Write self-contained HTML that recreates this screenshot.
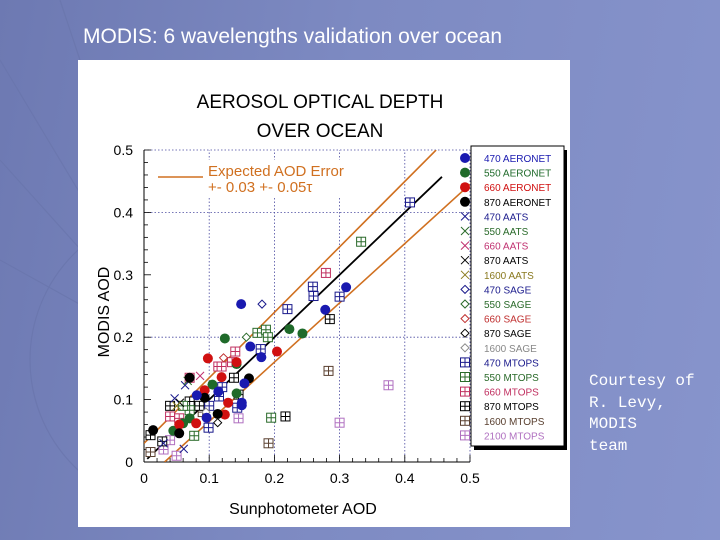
<!DOCTYPE html>
<html style="overflow:hidden;width:720px;height:540px"><head><meta charset="utf-8"><style>
html,body{margin:0;padding:0}
body{width:720px;height:540px;overflow:hidden;background:linear-gradient(100deg,#6d79b2 0%,#7d8ac2 45%,#8794cc 100%);font-family:"Liberation Sans",sans-serif;position:relative}
#title{position:absolute;left:83px;top:25px;font-size:21px;color:#fff}
#panel{position:absolute;left:78px;top:60px;width:492px;height:467px;background:#fff}
#credit{position:absolute;left:589px;top:371px;font-family:"Liberation Mono",monospace;font-size:16px;color:#fff;line-height:21.5px}
svg{display:block}
</style></head><body>
<svg width="720" height="540" style="position:absolute;left:0;top:0">
<g fill="none" stroke="#6a76ad" stroke-width="1.2" opacity="0.8">
<circle cx="180" cy="360" r="150"/>
<line x1="180" y1="360" x2="0" y2="60"/><line x1="180" y1="360" x2="0" y2="160"/><line x1="180" y1="360" x2="0" y2="260"/><line x1="180" y1="360" x2="60" y2="0"/>
</g></svg>
<div id="title">MODIS: 6 wavelengths validation over ocean</div>
<div id="panel"></div>
<div id="credit">Courtesy of<br>R. Levy,<br>MODIS<br>team</div>
<svg id="chart" width="720" height="540" style="position:absolute;left:0;top:0"></svg>
<script>
const xTicks=[0,0.1,0.2,0.3,0.4,0.5];
const yTicks=[0,0.1,0.2,0.3,0.4,0.5];
const aeronet470=[[.149,.253],[.163,.185],[.18,.168],[.278,.244],[.31,.28],[.154,.126],[.15,.091],[.081,.107],[.114,.113],[.096,.071],[.15,.095]];
const aeronet550=[[.124,.198],[.223,.213],[.243,.206],[.105,.124],[.142,.157],[.142,.11],[.06,.062],[.07,.07],[.045,.05]];
const aeronet660=[[.098,.166],[.204,.177],[.142,.16],[.119,.136],[.093,.115],[.129,.095],[.124,.076],[.054,.06],[.08,.062]];
const aeronet870=[[.07,.135],[.161,.134],[.093,.103],[.014,.051],[.054,.046],[.113,.077]];
const aats=[["#1a1a8c",.047,.102],["#1a1a8c",.063,.123],["#1a1a8c",.061,.021],["#2a6a2a",.067,.13],["#c03070",.086,.138],["#000",.055,.095],["#8a7a20",.05,.09],["#1a1a8c",.03,.03]];
const sage=[["#1a1a8c",.181,.253],["#2a6a2a",.157,.2],["#c03030",.122,.167],["#000",.113,.063],["#888",.095,.08]];
const mtops470=[[.22,.245],[.259,.281],[.26,.266],[.30,.265],[.408,.416],[.179,.181],[.115,.105],[.099,.055],[.143,.087],[.12,.12],[.1,.09]];
const mtops550=[[.333,.353],[.174,.207],[.187,.212],[.19,.2],[.195,.071],[.077,.042],[.07,.083],[.06,.09]];
const mtops660=[[.279,.303],[.14,.177],[.114,.153],[.119,.153],[.07,.135],[.04,.073],[.054,.07],[.135,.16]];
const mtops870=[[.285,.229],[.217,.073],[.138,.135],[.145,.108],[.04,.09],[.01,.043],[.028,.033],[.07,.097],[.085,.09]];
const mtops1600=[[.283,.146],[.191,.03],[.01,.016],[.09,.08]];
const mtops2100=[[.375,.123],[.30,.063],[.145,.07],[.03,.02],[.05,.01],[.04,.035]];
const legendLabels=["470 AERONET","550 AERONET","660 AERONET","870 AERONET","470 AATS","550 AATS","660 AATS","870 AATS","1600 AATS","470 SAGE","550 SAGE","660 SAGE","870 SAGE","1600 SAGE","470 MTOPS","550 MTOPS","660 MTOPS","870 MTOPS","1600 MTOPS","2100 MTOPS"];
const legendColors=["#1a1ab0","#1f6a2a","#d01010","#000","#1a1a8c","#2a6a2a","#c03070","#000","#8a7a20","#1a1a8c","#2a6a2a","#c03030","#000","#888","#1a1a8c","#2a6a2a","#c03060","#000","#5a4030","#b070c0"];
const legendKinds=["c","c","c","c","x","x","x","x","x","d","d","d","d","d","m","m","m","m","m","m"];
const NS="http://www.w3.org/2000/svg";
const svg=document.getElementById('chart');
const X0=144,X1=470,Y0=462,Y1=150;
const sx=v=>X0+(X1-X0)*v/0.5, sy=v=>Y0-(Y0-Y1)*v/0.5;
function mk(t,a,p){const e=document.createElementNS(NS,t);for(const k in a)e.setAttribute(k,a[k]);(p||svg).appendChild(e);return e;}
function txt(x,y,s,sz,fill,anchor,p){const e=mk('text',{x:x,y:y,'font-size':sz,fill:fill,'text-anchor':anchor||'start','font-family':'Liberation Sans, sans-serif'},p);e.textContent=s;return e;}
let t=txt(320,108,"AEROSOL OPTICAL DEPTH",19,"#000","middle");


t=txt(320,137,"OVER OCEAN",19,"#000","middle");


xTicks.forEach(v=>{if(v>0){const l=mk('line',{x1:sx(v),x2:sx(v),y1:Y0,y2:Y1,stroke:'#4a4aa0','stroke-width':0.8,'stroke-dasharray':'1.5,2'});

}
const tl=txt(sx(v),483,String(v),14,"#000","middle");

});
yTicks.forEach(v=>{if(v>0&&(v==0.5||Math.round(v*10)%2==0)){const l=mk('line',{x1:X0,x2:X1,y1:sy(v),y2:sy(v),stroke:'#4a4aa0','stroke-width':0.8,'stroke-dasharray':'1.5,2'});

}
const tl=txt(133,sy(v)+5,String(v),14,"#000","end");

});
for(let i=0;i<=25;i++){const v=i*0.02;mk('line',{x1:sx(v),x2:sx(v),y1:Y0,y2:Y0-(i%5?4:7),stroke:'#000','stroke-width':0.8});mk('line',{x1:X0,x2:X0+(i%5?4:7),y1:sy(v),y2:sy(v),stroke:'#000','stroke-width':0.8});}
let ax=mk('line',{x1:X0,x2:X0,y1:Y0,y2:Y1,stroke:'#000','stroke-width':1});


ax=mk('line',{x1:X0,x2:X1,y1:Y0,y2:Y0,stroke:'#000','stroke-width':1});


t=txt(303,514,"Sunphotometer AOD",16,"#000","middle");


t=txt(0,0,"MODIS AOD",16,"#000","middle");
t.setAttribute('transform','translate(109,312) rotate(-90)');


const cp=mk('clipPath',{id:'pc'});mk('rect',{x:X0,y:Y1,width:X1-X0,height:Y0-Y1},cp);
const g=mk('g',{'clip-path':'url(#pc)'});
let ln=mk('line',{x1:sx(0.005),y1:sy(0.005),x2:sx(0.457),y2:sy(0.457),stroke:'#000','stroke-width':1.8},g);


ln=mk('line',{x1:sx(0),y1:sy(0.03),x2:sx(0.448),y2:sy(0.5),stroke:'#d07020','stroke-width':1.6},g);


ln=mk('line',{x1:sx(0.0316),y1:sy(0),x2:sx(0.5),y2:sy(0.445),stroke:'#d07020','stroke-width':1.6},g);


mk('rect',{x:150,y:160,width:212,height:38,fill:'#fff'});
mk('line',{x1:158,x2:203,y1:177,y2:177,stroke:'#d07020','stroke-width':1.6});
t=txt(208,176,"Expected AOD Error",15,"#d07020");


t=txt(208,192,"+- 0.03 +- 0.05τ",15,"#d07020");


function marker(kind,c,x,y,p){
 if(kind=='c')return mk('circle',{cx:x,cy:y,r:5,fill:c},p);
 if(kind=='x'){const gg=mk('g',{stroke:c,'stroke-width':1,fill:'none'},p);mk('path',{d:`M${x-4} ${y-4}L${x+4} ${y+4}M${x-4} ${y+4}L${x+4} ${y-4}`},gg);return gg;}
 if(kind=='d')return mk('path',{d:`M${x} ${y-4}L${x+4} ${y}L${x} ${y+4}L${x-4} ${y}Z`,fill:'#fff',stroke:c,'stroke-width':1},p);
 const gg=mk('g',{stroke:c,'stroke-width':1,fill:'#fff'},p);mk('rect',{x:x-4.5,y:y-4.5,width:9,height:9},gg);mk('path',{d:`M${x} ${y-4.5}V${y+4.5}M${x-4.5} ${y}H${x+4.5}`},gg);return gg;
}
function series(arr,kind,c,name){arr.forEach(d=>{const m=marker(kind,c,sx(d[0]),sy(d[1]),g);

});}
series(mtops1600,'m',legendColors[18],'point-1600-mtops');
series(mtops2100,'m',legendColors[19],'point-2100-mtops');
series(mtops870,'m',legendColors[17],'point-870-mtops');
series(mtops550,'m',legendColors[15],'point-550-mtops');
series(mtops660,'m',legendColors[16],'point-660-mtops');
series(mtops470,'m',legendColors[14],'point-470-mtops');
aats.forEach(d=>{const m=marker('x',d[0],sx(d[1]),sy(d[2]),g);

});
sage.forEach(d=>{const m=marker('d',d[0],sx(d[1]),sy(d[2]),g);

});
series(aeronet550,'c',legendColors[1],'point-550-aeronet');
series(aeronet660,'c',legendColors[2],'point-660-aeronet');
series(aeronet870,'c',legendColors[3],'point-870-aeronet');
series(aeronet470,'c',legendColors[0],'point-470-aeronet');
mk('rect',{x:474,y:150,width:93,height:300,fill:'#000'});
const lb=mk('rect',{x:471,y:146,width:93,height:300,fill:'#fff',stroke:'#000','stroke-width':1});


legendLabels.forEach((s,i)=>{const y=158+i*14.6;
const lm=marker(legendKinds[i],legendColors[i],465,y);


const tt=txt(484,y+4,s,10,legendColors[i]);

});
</script>
</body></html>
